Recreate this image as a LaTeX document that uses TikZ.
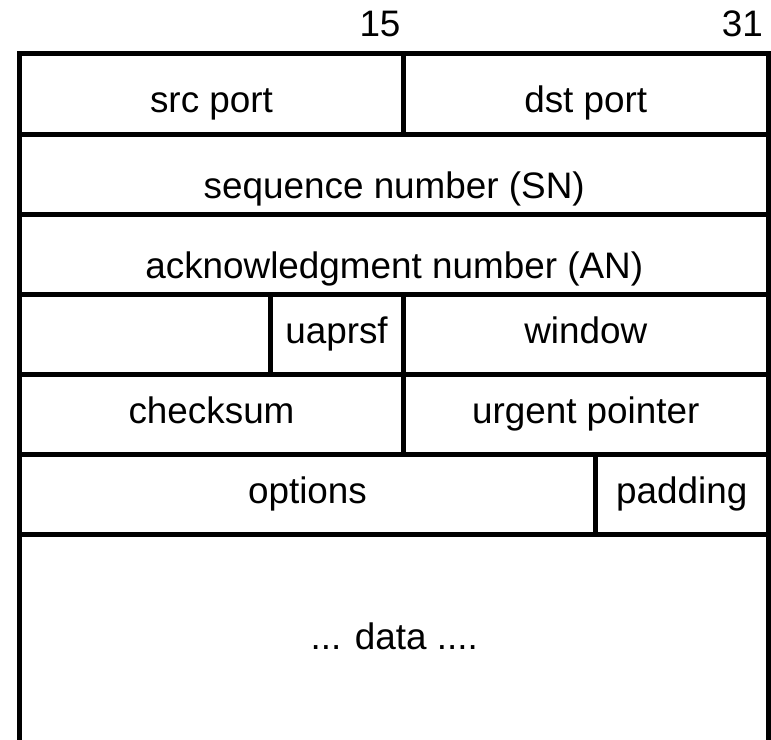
\documentclass[tikz,border=0pt]{standalone}
\usepackage{fontspec}
\setmainfont{Liberation Sans}
\usepackage{tikz}
\usetikzlibrary{positioning}

\tikzset{
    field/.style={draw, line width=5bp, inner sep=0pt, outer sep=0pt,
        minimum height=80bp, text height=19bp, text depth=0pt,
        font=\fontsize{37}{44}\selectfont},
    bitno/.style={anchor=base, inner sep=0pt, font=\fontsize{37}{44}\selectfont}
}

\begin{document}
\begin{tikzpicture}[x=1bp, y=-1bp]
    \useasboundingbox (0,0) rectangle (771,740);

    % Bit numbers
    \node[bitno] (bitmid) at (380,37) {15};
    \node[bitno, anchor=base east] (bitend) at (763,37) {31};

    % Row 1: ports
    \node[field, minimum width=383bp, text height=37bp] (srcport) at (211.5,94) {src port};
    \node[field, minimum width=365.5bp, text height=37bp] (dstport) at (585.75,94) {dst port};

    % Rows 2 and 3: numbers
    \node[field, minimum width=748.5bp, text height=48bp] (seqnum) at (394.25,174) {sequence number (SN)};
    \node[field, minimum width=748.5bp, text height=48bp] (acknum) at (394.25,254) {acknowledgment number (AN)};

    % Row 4: header length, flags, window
    \node[field, minimum width=250bp] (hdrlen) at (145,334) {};
    \node[field, minimum width=133bp] (flags) at (336.5,334) {uaprsf};
    \node[field, minimum width=365.5bp] (window) at (585.75,334) {window};

    % Row 5
    \node[field, minimum width=383bp] (checksum) at (211.5,414) {checksum};
    \node[field, minimum width=365.5bp] (urgent) at (585.75,414) {urgent pointer};

    % Row 6
    \node[field, minimum width=575bp] (options) at (307.5,494) {options};
    \node[field, minimum width=173.5bp] (padding) at (681.75,494) {padding};

    % Data (runs past the bottom edge)
    \node[field, minimum width=748.5bp, minimum height=212bp] (data) at (394.25,640) {... data ....};
\end{tikzpicture}
\end{document}
